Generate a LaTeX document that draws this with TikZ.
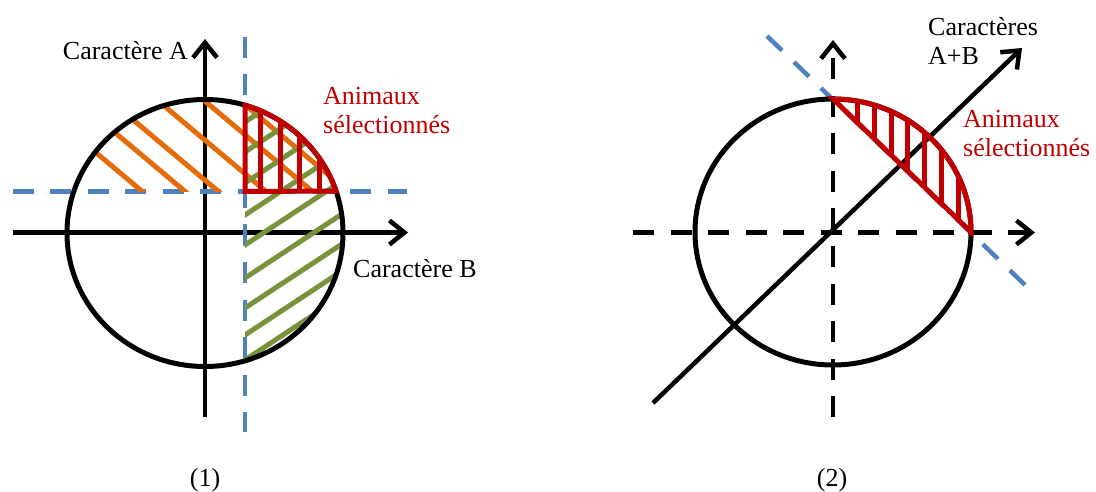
\documentclass[tikz,border=0pt]{standalone}
\usepackage{fontspec}
\setmainfont{Liberation Serif}
\usetikzlibrary{arrows.meta}
\definecolor{myorange}{HTML}{E46C0A}
\definecolor{mygreen}{HTML}{77933C}
\definecolor{myblue}{HTML}{4F81BD}
\definecolor{myred}{HTML}{C00000}
\begin{document}
\begin{tikzpicture}[x=1pt,y=-1pt,
  axis/.style={line width=4.5pt,-{Straight Barb[length=15pt,width=24pt]}},
  dashaxis/.style={axis,dash pattern=on 21pt off 16.5pt},
  bluedash/.style={myblue,line width=4.5pt,dash pattern=on 21pt off 16.5pt},
  circ/.style={line width=5pt},
  hatchO/.style={myorange,line width=5pt},
  hatchG/.style={mygreen,line width=5pt},
  redline/.style={myred,line width=5pt},
  lab/.style={font=\fontsize{26}{29}\selectfont,inner sep=0pt},
]
\useasboundingbox (0,0) rectangle (1096,492);

% ---------- diagram (1) ----------
\coordinate (C1) at (205,233);
\coordinate (h1s) at (12.7,232.5); \coordinate (h1e) at (408,232.5);
\coordinate (v1s) at (205,417);   \coordinate (v1e) at (205,39);
\draw[axis] (h1s) -- (h1e);
\draw[axis] (v1s) -- (v1e);
\coordinate (b1s) at (245,37);    \coordinate (b1e) at (245,432);
\coordinate (b2s) at (12.7,191.5); \coordinate (b2e) at (407,191.5);
\draw[bluedash] (b1s) -- (b1e);
\draw[bluedash] (b2s) -- (b2e);

% orange hatching (upper part)
\begin{scope}
  \clip (C1) ellipse [x radius=138pt, y radius=133.5pt];
  \clip (0,0) rectangle (1096,191.5);
  \foreach \c in {72,36,8,-32,-71,-101}
    \draw[hatchO] (50,{0.84*50+\c}) -- (400,{0.84*400+\c});
\end{scope}
% green hatching (right part)
\begin{scope}
  \clip (C1) ellipse [x radius=138pt, y radius=133.5pt];
  \clip (245,0) rectangle (1096,492);
  \foreach \y in {122,152,183,215,245,278,308,335,360}
    \draw[hatchG] (240,{\y+0.66*5}) -- (400,{\y-0.66*155});
\end{scope}
\draw[circ] (C1) ellipse [x radius=138pt, y radius=133.5pt];
% red region
\begin{scope}
  \clip (C1) ellipse [x radius=138pt, y radius=133.5pt];
  \foreach \x in {260,280,299,319}
    \draw[redline] (\x,191.5) -- (\x,90);
\end{scope}
\draw[redline] (245,191.5) -- plot[domain=73.15:18.34,samples=40]
  ({205+138*cos(\x)},{233-133.5*sin(\x)}) -- cycle;

\node[lab,anchor=base east] (tA) at (188,60) {Caractère A};
\node[lab,anchor=base west] (tB) at (353,277) {Caractère B};
\node[lab,anchor=base west,align=left,text=myred] (s1) at (323,133.3) {Animaux\\sélectionnés};
\node[lab,anchor=base] (n1) at (205,486.5) {(1)};

% ---------- diagram (2) ----------
\coordinate (C2) at (833,232);
\coordinate (bl1) at (767,36); \coordinate (bl2) at (1025,285);
\draw[bluedash] (bl1) -- (bl2);
\coordinate (h2s) at (633,232.5); \coordinate (h2e) at (1035,232.5);
\coordinate (v2s) at (833,417);   \coordinate (v2e) at (833,40);
\draw[dashaxis] (h2s) -- (h2e);
\draw[dashaxis] (v2s) -- (v2e);
\coordinate (d2s) at (653,403); \coordinate (d2e) at (1022,48);
\draw[axis] (d2s) -- (d2e);
\draw[circ] (C2) ellipse [x radius=138pt, y radius=133pt];
\begin{scope}
  \clip plot[domain=0:90,samples=50] ({833+138*cos(\x)},{232-133*sin(\x)}) -- cycle;
  \foreach \x in {857,874,891,907,924,941,958}
    \draw[redline] (\x,60) -- (\x,240);
\end{scope}
\draw[redline] plot[domain=0:90,samples=50] ({833+138*cos(\x)},{232-133*sin(\x)}) -- cycle;

\node[lab,anchor=base west,align=left] (tAB) at (928,64.3) {Caractères\\A+B};
\node[lab,anchor=base west,align=left,text=myred] (s2) at (963,156.7) {Animaux\\sélectionnés};
\node[lab,anchor=base] (n2) at (832,486.5) {(2)};
\end{tikzpicture}
\end{document}
